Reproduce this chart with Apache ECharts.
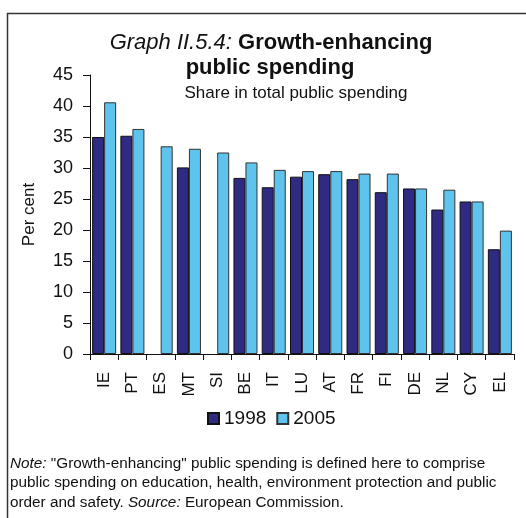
<!DOCTYPE html>
<html>
<head>
<meta charset="utf-8">
<script src="https://cdn.jsdelivr.net/npm/echarts@6/dist/echarts.min.js"></script>
<style>html,body{margin:0;padding:0;background:#fff}#c{width:526px;height:518px}</style>
</head>
<body>
<div id="c"></div>
<script>
const categories = ['IE','PT','ES','MT','SI','BE','IT','LU','AT','FR','FI','DE','NL','CY','EL'];
const values1998 = [35.0, 35.2, null, 30.1, null, 28.4, 26.9, 28.6, 29.0, 28.2, 26.1, 26.7, 23.3, 24.6, 16.9];
const values2005 = [40.6, 36.3, 33.5, 33.1, 32.5, 30.9, 29.7, 29.5, 29.5, 29.1, 29.1, 26.7, 26.5, 24.6, 19.9];
const seriesNames = ['1998', '2005'];
const yTicks = [0, 5, 10, 15, 20, 25, 30, 35, 40, 45];

const F = '"Liberation Sans", Arial, sans-serif';
const chart = echarts.init(document.getElementById('c'), null, {renderer: 'canvas'});
chart.setOption({
  animation: false,
  backgroundColor: '#fff',
  textStyle: {fontFamily: F},
  title: [
    {
      text: '{ita|Graph II.5.4:} {bld|Growth-enhancing}',
      left: 271, top: 32, textAlign: 'center', padding: 0,
      textStyle: {fontFamily: F, fontSize: 22, fontWeight: 'normal', color: '#111', rich: {
        ita: {fontFamily: F, fontSize: 22, fontStyle: 'italic', fontWeight: 'normal', color: '#111'},
        bld: {fontFamily: F, fontSize: 22, fontStyle: 'normal', fontWeight: 'bold', color: '#111'}
      }}
    },
    {
      text: 'public spending',
      left: 270, top: 57, textAlign: 'center', padding: 0,
      textStyle: {fontFamily: F, fontSize: 22, fontWeight: 'bold', color: '#111'}
    },
    {
      text: 'Share in total public spending',
      left: 296, top: 85, textAlign: 'center', padding: 0,
      textStyle: {fontFamily: F, fontSize: 17, fontWeight: 'normal', color: '#111'}
    },
    {
      text: '{ita|Note:} "Growth-enhancing" public spending is defined here to comprise\npublic spending on education, health, environment protection and public\norder and safety. {ita|Source:} European Commission.',
      left: 10, top: 454, padding: 0,
      textStyle: {fontFamily: F, fontSize: 15.3, fontWeight: 'normal', color: '#111', lineHeight: 19.5,
        rich: {ita: {fontFamily: F, fontSize: 15.3, fontStyle: 'italic', fontWeight: 'normal', color: '#111', lineHeight: 19.5}}}
    }
  ],
  graphic: [{
    type: 'polyline',
    shape: {points: [[7.5, 518], [7.5, 13.5], [526, 13.5]]},
    style: {stroke: '#333', lineWidth: 1.5, fill: null}
  }],
  legend: {
    data: seriesNames,
    top: 404, left: 202,
    itemWidth: 11, itemHeight: 11, itemGap: 10,
    icon: 'rect',
    textStyle: {fontFamily: F, fontSize: 19, color: '#111'}
  },
  grid: {left: 90, right: 12, top: 75, bottom: 164, containLabel: false},
  xAxis: {
    type: 'category',
    data: categories,
    axisLine: {lineStyle: {color: '#111', width: 1}},
    axisTick: {show: true, alignWithLabel: false, length: 6, lineStyle: {color: '#111'}},
    axisLabel: {rotate: 90, fontFamily: F, fontSize: 17, color: '#111', margin: 18, interval: 0}
  },
  yAxis: {
    type: 'value',
    min: 0, max: 45, interval: 5,
    name: 'Per cent', nameLocation: 'middle', nameGap: 52, nameRotate: 90,
    nameTextStyle: {fontFamily: F, fontSize: 17, color: '#111'},
    axisLine: {show: true, lineStyle: {color: '#111', width: 1}},
    axisTick: {show: true, length: 7, lineStyle: {color: '#111'}},
    splitLine: {show: false},
    axisLabel: {fontFamily: F, fontSize: 18, color: '#111', margin: 17,
      formatter: v => yTicks.includes(v) ? String(v) : ''}
  },
  series: [
    {
      name: seriesNames[0], type: 'bar', data: values1998,
      barGap: '0%', barCategoryGap: '15%',
      itemStyle: {color: '#2F2A82', borderColor: '#111', borderWidth: 1}
    },
    {
      name: seriesNames[1], type: 'bar', data: values2005,
      barGap: '0%', barCategoryGap: '15%',
      itemStyle: {color: '#5EC4EE', borderColor: '#333', borderWidth: 1}
    }
  ]
});
</script>
</body>
</html>
